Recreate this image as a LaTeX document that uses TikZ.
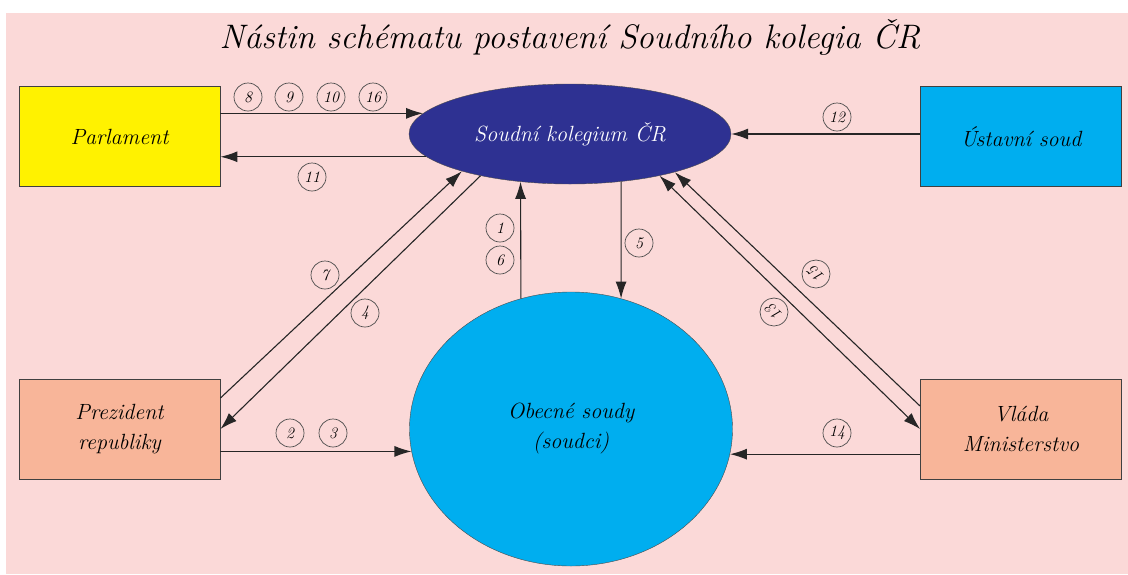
\documentclass[tikz,border=0pt]{standalone}
\usepackage{fontspec}
\usetikzlibrary{shapes.geometric,arrows.meta}
\definecolor{bgpink}{RGB}{251,217,216}
\definecolor{parlyellow}{RGB}{255,242,0}
\definecolor{skyblue}{RGB}{0,174,239}
\definecolor{navyblue}{RGB}{46,49,146}
\definecolor{salmon}{RGB}{248,181,153}
\begin{document}
\begin{tikzpicture}[x=1pt,y=-1pt,
            box/.style={
              draw=black!75,
              line width=0.9pt,
              minimum width=201pt,
              minimum height=100pt,
              inner sep=0pt,
              align=center,
              font=\fontsize{22}{30}\selectfont\itshape
            },
            num/.style={
              circle,
              draw=black!70,
              line width=0.7pt,
              minimum size=28pt,
              inner sep=0pt,
              font=\fontsize{16}{16}\selectfont\itshape
            },
            tip/.tip={Latex[length=17pt,width=11pt]},
            arr/.style={
              line width=1.1pt,
              draw=black!85,
              -tip
            }
        ]
    \fill[bgpink] (6,13) rectangle (1128,574);
    \useasboundingbox (0,0) rectangle (1128,574);

    \node[font=\fontsize{34}{40}\selectfont\itshape] (title) at (570,37)
        {Nástin schématu postavení Soudního kolegia ČR};

    \node[box, fill=parlyellow] (parl) at (119.5,136.5) {Parlament};
    \node[box, fill=skyblue] (ust) at (1021,136.5) {Ústavní soud};
    \node[box, fill=salmon] (prez) at (119.5,429) {Prezident\\republiky};
    \node[box, fill=salmon] (vlada) at (1021,429) {Vláda\\Ministerstvo};

    \node[ellipse, draw=black!70, fill=navyblue, text=white,
          minimum width=322pt, minimum height=100pt,
          font=\fontsize{22}{26}\selectfont\itshape] (kol) at (570,134)
        {Soudní kolegium ČR};
    \node[ellipse, draw=black!70, fill=skyblue, align=center,
          minimum width=323pt, minimum height=274pt,
          font=\fontsize{22}{30}\selectfont\itshape] (obs) at (571,429)
        {Obecné soudy\\(soudci)};

    \draw[arr] (parl.east |- kol.172.7) -- (kol.172.7);
    \draw[arr] (kol.189.1) -- (kol.189.1 -| parl.east);
    \draw[arr] (ust.west |- kol.east) -- (kol.east);
    \draw[arr] (prez.east |- obs.188.2) -- (obs.188.2);
    \draw[arr] (vlada.west |- obs.351.8) -- (obs.351.8);
    \draw[arr] (obs.111.2) -- (kol.224.6);
    \draw[arr] (kol.317.1) -- (obs.69);
    \draw[arr] ([yshift=31pt]prez.east) -- (kol.199.7);
    \draw[arr] (kol.205.4) -- (prez.east);
    \draw[arr, tip-tip] (kol.335.8) -- (vlada.west);
    \draw[arr] ([yshift=23pt]vlada.west) -- (kol.340);

    \foreach \x/\n in {248/8, 289/9, 331/10, 373/16}
        \node[num] (n\n) at (\x,97) {\n};
    \foreach \x/\n in {290/2, 333/3}
        \node[num] (n\n) at (\x,433) {\n};
    \node[num] (n11) at (312,177) {11};
    \node[num] (n12) at (837,117) {12};
    \node[num] (n14) at (837,433) {14};
    \node[num] (n1) at (500,228) {1};
    \node[num] (n6) at (500,260) {6};
    \node[num] (n5) at (639,243) {5};
    \node[num] (n7) at (325,275) {7};
    \node[num] (n4) at (365,313) {4};
    \node[num, rotate=135] (n15) at (816,274) {15};
    \node[num, rotate=135] (n13) at (774,312) {13};

    \end{tikzpicture}
\end{document}
